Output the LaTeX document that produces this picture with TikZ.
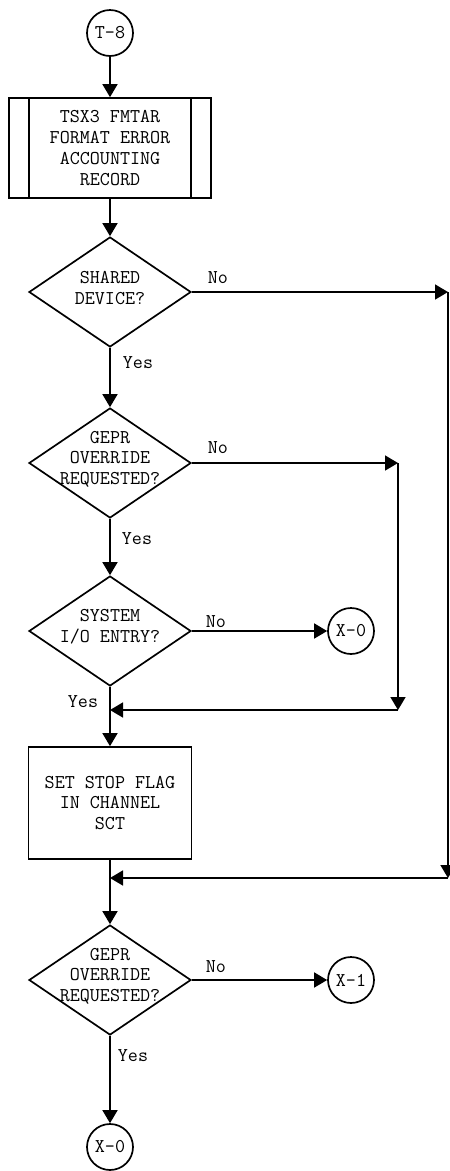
\documentclass[tikz,border=0pt]{standalone}
\usetikzlibrary{arrows.meta,positioning,shapes.geometric}

\begin{document}
\begin{tikzpicture}[
  x=1pt, y=-1pt,
  % === Node styles ===
  connector/.style={
    draw, circle, minimum size=46pt, inner sep=0pt,
    font=\ttfamily\fontsize{19.5}{20.7}\selectfont, line width=1.7pt
  },
  subproc/.style={
    draw, minimum width=202pt, minimum height=100pt,
    font=\ttfamily\fontsize{19.5}{20.7}\selectfont,
    align=center, line width=1.7pt
  },
  process/.style={
    draw, minimum width=163pt, minimum height=112pt,
    font=\ttfamily\fontsize{19.5}{20.7}\selectfont,
    align=center, line width=1.7pt
  },
  decision/.style={
    draw, diamond, inner sep=0pt,
    minimum width=162pt, minimum height=110pt,
    line width=1.7pt
  },
  dtext/.style={
    font=\ttfamily\fontsize{19.5}{20.7}\selectfont,
    align=center, inner sep=0pt, yshift=4pt
  },
  % === Arrow styles ===
  arr/.style={-{Triangle[length=13pt, width=15pt]}, line width=1.7pt},
  % === Label styles ===
  lbl/.style={font=\ttfamily\fontsize{19.5}{20.7}\selectfont, inner sep=0pt},
]

\useasboundingbox (0,0) rectangle (450,1171);

% =============================================
% Main column
% =============================================
\node[connector] (t8) at (110, 33) {T-8};

\node[subproc] (fmtar) at (110, 148) {
  TSX3 FMTAR\\FORMAT ERROR\\ACCOUNTING\\RECORD
};
\draw[line width=1.7pt] ([xshift=21pt]fmtar.north west) -- ([xshift=21pt]fmtar.south west);
\draw[line width=1.7pt] ([xshift=-21pt]fmtar.north east) -- ([xshift=-21pt]fmtar.south east);

\node[decision] (shared) at (110, 292) {};
\node[dtext] (sharedtxt) at (shared) {SHARED\\DEVICE?};

\node[decision] (gepra) at (110, 463) {};
\node[dtext] (gepratxt) at (gepra) {GEPR\\OVERRIDE\\REQUESTED?};

\node[decision] (sysio) at (110, 631) {};
\node[dtext] (sysiotxt) at (sysio) {SYSTEM\\I/O ENTRY?};

\node[process] (setstop) at (110, 803) {
  SET STOP FLAG\\IN CHANNEL\\SCT
};

\node[decision] (geprb) at (110, 980) {};
\node[dtext] (geprbtxt) at (geprb) {GEPR\\OVERRIDE\\REQUESTED?};

\node[connector] (xzerob) at (110, 1147) {X-0};

% =============================================
% Exit connectors
% =============================================
\node[connector] (xzeroa) at (351, 631) {X-0};
\node[connector] (xone) at (351, 980) {X-1};

% =============================================
% Bypass corners
% =============================================
\coordinate (bya) at (448, 292);
\coordinate (byb) at (448, 878);
\coordinate (mrga) at (setstop.south |- byb);
\coordinate (bzc) at (398, 463);
\coordinate (bzd) at (398, 710);
\coordinate (mrgb) at (setstop.north |- bzd);

% =============================================
% Arrows: main flow
% =============================================
\draw[arr] (t8.south) -- (fmtar.north);
\draw[arr] (fmtar.south) -- (shared.north);
\draw[arr] (shared.south) -- (gepra.north);
\draw[arr] (gepra.south) -- (sysio.north);
\draw[arr] (sysio.south) -- (setstop.north);
\draw[arr] (setstop.south) -- (geprb.north);
\draw[arr] (geprb.south) -- (xzerob.north);

% =============================================
% Arrows: No branches
% =============================================
\draw[arr] (shared.east) -- (bya);
\draw[arr] (bya) -- (byb);
\draw[arr] (byb) -- (mrga);

\draw[arr] (gepra.east) -- (bzc);
\draw[arr] (bzc) -- (bzd);
\draw[arr] (bzd) -- (mrgb);

\draw[arr] (sysio.east) -- (xzeroa.west);
\draw[arr] (geprb.east) -- (xone.west);

% =============================================
% Branch labels
% =============================================
\node[lbl] (nosh) at ([xshift=26pt, yshift=14pt]shared.east) {No};
\node[lbl] (yessh) at ([xshift=28pt, yshift=-15pt]shared.south) {Yes};
\node[lbl] (noga) at ([xshift=26pt, yshift=15pt]gepra.east) {No};
\node[lbl] (yesga) at ([xshift=27pt, yshift=-20pt]gepra.south) {Yes};
\node[lbl] (nosy) at ([xshift=24pt, yshift=9pt]sysio.east) {No};
\node[lbl] (yessy) at ([xshift=-27pt, yshift=-15pt]sysio.south) {Yes};
\node[lbl] (nogb) at ([xshift=24pt, yshift=13pt]geprb.east) {No};
\node[lbl] (yesgb) at ([xshift=23pt, yshift=-20pt]geprb.south) {Yes};

\end{tikzpicture}
\end{document}
